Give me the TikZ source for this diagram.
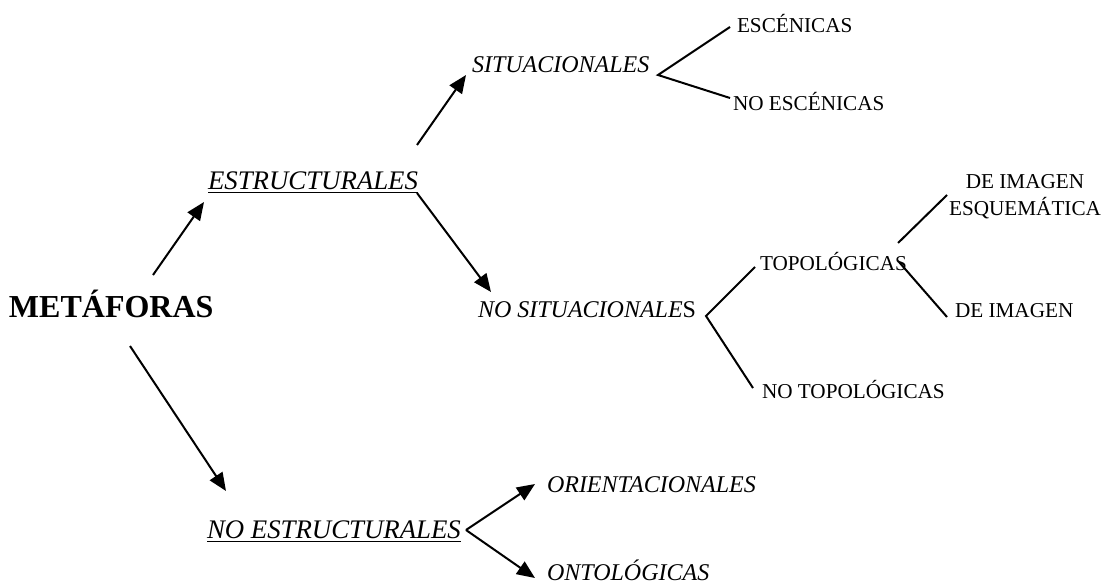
\documentclass[tikz,border=0pt]{standalone}
\usepackage{fontspec}
\setmainfont{Liberation Serif}
\usetikzlibrary{arrows.meta}
\begin{document}
\begin{tikzpicture}[x=0.5pt,y=-0.5pt,
  lbl/.style={inner sep=0pt,outer sep=0pt,anchor=base west,font=\fontsize{10.6}{13.5}\selectfont},
  ital/.style={lbl,font=\fontsize{12}{13.5}\selectfont\itshape},
  big/.style={lbl,font=\fontsize{13.4}{15}\selectfont\itshape},
  ln/.style={line width=1pt},
  arr/.style={line width=1pt,-{Triangle[length=9pt,width=7.5pt]}}]
\useasboundingbox (0,0) rectangle (1106,584);
% nodes
\node[lbl,font=\fontsize{16}{18}\selectfont\bfseries] (met) at (9,317) {METÁFORAS};
\node[big] (est) at (208,189) {\underline{ESTRUCTURALES}};
\node[ital] (sit) at (472,72) {SITUACIONALES};
\node[lbl] (esc) at (737,32) {ESCÉNICAS};
\node[lbl] (noesc) at (733,110) {NO ESCÉNICAS};
\node[ital] (nosit) at (478,317) {NO SITUACIONALE\upshape S};
\node[lbl] (top) at (760,270) {TOPOLÓGICAS};
\node[lbl] (notop) at (762,398) {NO TOPOLÓGICAS};
\node[inner sep=0pt,anchor=base,align=center,font=\fontsize{10.6}{13.5}\selectfont] (esq) at (1025,215) {DE IMAGEN\\ESQUEMÁTICA};
\node[lbl] (img) at (955,317) {DE IMAGEN};
\node[big] (noest) at (207,538) {\underline{NO ESTRUCTURALES}};
\node[ital] (ori) at (547,492) {ORIENTACIONALES};
\node[ital] (ont) at (547,580) {ONTOLÓGICAS};
% connector points
\coordinate (m1) at (153,275);
\coordinate (m1t) at (204,202);
\coordinate (m2) at (130,346);
\coordinate (m2t) at (226,491);
\coordinate (e1) at (417,145);
\coordinate (e1t) at (466,75);
\coordinate (e2) at (417,193);
\coordinate (e2t) at (491,292);
\coordinate (sv) at (658,75);
\coordinate (sva) at (730,27);
\coordinate (svb) at (730,98);
\coordinate (nv) at (706,316);
\coordinate (nva) at (755,267);
\coordinate (nvb) at (753,388);
\coordinate (ta) at (898,243);
\coordinate (tat) at (947,195);
\coordinate (tb) at (899,262);
\coordinate (tbt) at (947,317);
\coordinate (ov) at (466,530);
\coordinate (ova) at (535,484);
\coordinate (ovb) at (535,578);
% connectors
\draw[arr] (m1) -- (m1t);
\draw[arr] (m2) -- (m2t);
\draw[arr] (e1) -- (e1t);
\draw[arr] (e2) -- (e2t);
\draw[ln] (sva) -- (sv) -- (svb);
\draw[ln] (nva) -- (nv) -- (nvb);
\draw[ln] (ta) -- (tat);
\draw[ln] (tb) -- (tbt);
\draw[arr] (ov) -- (ova);
\draw[arr] (ov) -- (ovb);
\end{tikzpicture}
\end{document}
